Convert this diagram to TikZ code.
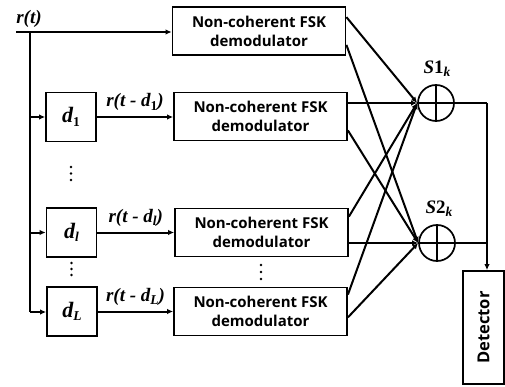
\documentclass[tikz,border=0pt]{standalone}
\usepackage{fontspec}
\setmainfont{Liberation Serif}
\newfontfamily\sansb{Open Sans}
\usetikzlibrary{arrows.meta,calc}
\newcommand{\mysub}[1]{\raisebox{-0.35ex}{\fontsize{13.5}{13.5}\selectfont #1}}
\begin{document}
\begin{tikzpicture}[x=1pt,y=-1pt,
  ln/.style={line width=2pt},
  arr/.style={ln,-{Latex[length=6pt,width=5.5pt]}},
  demod/.style={draw,line width=1.8pt,minimum width=173pt,minimum height=48pt,inner sep=0pt,align=center,
    font=\sansb\bfseries\fontsize{15}{19}\selectfont},
  dbox/.style={draw,line width=1.8pt,minimum width=50pt,minimum height=49pt,inner sep=0pt,
    font=\bfseries\itshape\fontsize{22}{22}\selectfont},
  lbl/.style={font=\bfseries\itshape\fontsize{19}{19}\selectfont,inner sep=0pt},
  summer/.style={draw,circle,line width=1.7pt,minimum size=36pt,inner sep=0pt},
  det/.style={draw,line width=1.8pt,minimum width=41pt,minimum height=113pt,inner sep=0pt},
  dotm/.style={fill,circle,inner sep=0pt,minimum size=2.8pt}]
\useasboundingbox (0,0) rectangle (505,387);
% input
\node[lbl] (rt) at (29,19) {r(t)};
\coordinate (rin) at (16,32);
\coordinate (btop) at (30,32);
\coordinate (bbot) at (30,312);
% demodulators
\node[demod] (m1) at (259,31) {Non-coherent FSK\\demodulator};
\node[demod] (m2) at (260.5,116.5) {Non-coherent FSK\\demodulator};
\node[demod] (m3) at (261.5,232.5) {Non-coherent FSK\\demodulator};
\node[demod] (m4) at (260.5,311.5) {Non-coherent FSK\\demodulator};
% delays
\node[dbox] (d1) at (71,117) {d\mysub{\upshape 1}};
\node[dbox] (dl) at (71.5,232.5) {d\mysub{l}};
\node[dbox] (dL) at (72,311.5) {d\mysub{L}};
% summers
\node[summer] (s1) at (436,103) {};
\node[summer] (s2) at (437,243) {};
\draw[line width=1.7pt] (s1.north) -- (s1.south) (s1.west) -- (s1.east);
\draw[line width=1.7pt] (s2.north) -- (s2.south) (s2.west) -- (s2.east);
\node[lbl] (s1l) at (437,69) {S\upshape 1\mysub{\itshape k}};
\node[lbl] (s2l) at (439,209) {S\upshape 2\mysub{\itshape k}};
% detector
\node[det] (det) at (483.5,327.5) {};
\node[rotate=90,font=\sansb\bfseries\fontsize{16.5}{16.5}\selectfont] (dett) at (det.center) {Detector};
% dots
\foreach \y [count=\i] in {167,173.5,180} \node[dotm] (da\i) at (71,\y) {};
\foreach \y [count=\i] in {263,269,275} \node[dotm] (db\i) at (71.5,\y) {};
\foreach \y [count=\i] in {265,272,279} \node[dotm] (dc\i) at (261,\y) {};
% bus
\draw[arr] (rin) -- (m1.west |- rin);
\draw[ln] (btop) -- (bbot);
\draw[arr] (btop |- d1.west) -- (d1.west);
\draw[arr] (btop |- dl.west) -- (dl.west);
\draw[arr] (bbot) -- (dL.west |- bbot);
% delay outputs
\draw[arr] (d1.east) -- node[lbl,above=5pt] (l1) {r(t - d\mysub{\upshape 1})} (m2.west |- d1.east);
\draw[arr] (dl.east) -- node[lbl,above=5pt] (l2) {r(t - d\mysub{l})} (m3.west |- dl.east);
\draw[arr] (dL.east) -- node[lbl,above=5pt] (l3) {r(t - d\mysub{L})} (m4.west |- dL.east);
% to summers
\draw[arr] ($(m1.north east)+(0,11)$) -- (s1.west);
\draw[arr] ($(m1.south east)+(0,-11)$) -- (s2.west);
\draw[arr] (m2.east |- s1.west) -- (s1.west);
\draw[arr] ($(m2.south east)+(0,-11)$) -- (s2.west);
\draw[arr] ($(m3.north east)+(0,9)$) -- (s1.west);
\draw[arr] (m3.east |- s2.west) -- (s2.west);
\draw[arr] ($(m4.north east)+(0,8)$) -- (s1.west);
\draw[arr] ($(m4.south east)+(0,-19)$) -- (s2.west);
% outputs
\coordinate (oc) at (487,103);
\draw[ln] (s1.east) -- (oc);
\draw[arr] (oc) -- (oc |- det.north);
\draw[ln] (s2.east) -- (oc |- s2.east);
\end{tikzpicture}
\end{document}
